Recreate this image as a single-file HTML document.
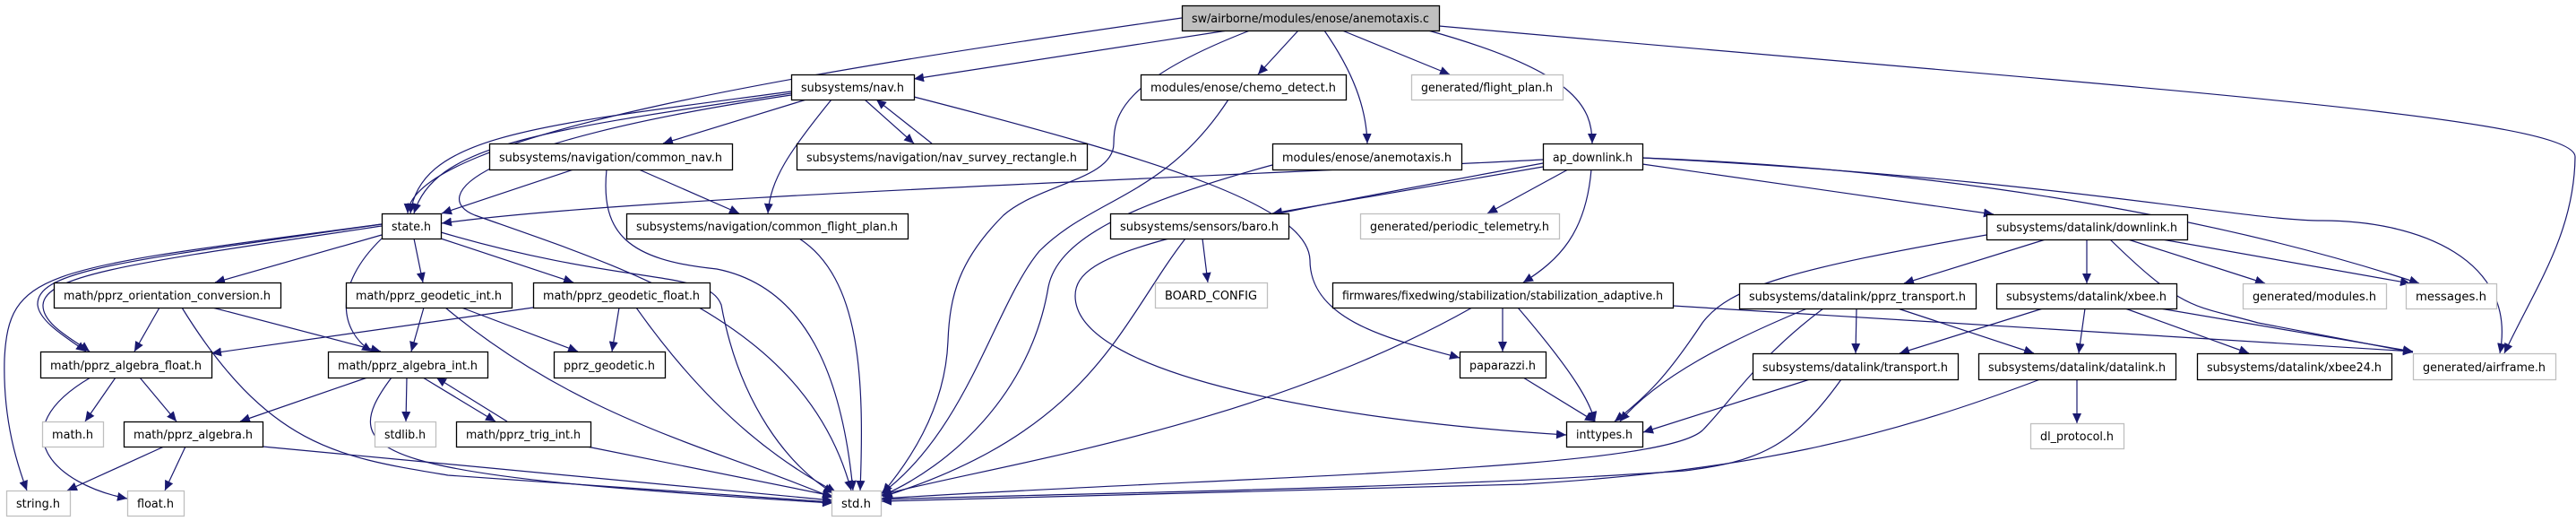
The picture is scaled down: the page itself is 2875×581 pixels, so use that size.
<!DOCTYPE html>
<html><head><meta charset="utf-8"><style>
html,body{margin:0;padding:0;background:#fff;}
svg{display:block;}
text{font-family:"DejaVu Sans","Liberation Sans",sans-serif;font-size:13px;fill:#000;}
.e{fill:none;stroke:#191970;stroke-width:1.2;marker-end:url(#a);}
.n{fill:#fff;stroke:#000;stroke-width:1.3;}
.g{fill:#fff;stroke:#bfbfbf;stroke-width:1.3;}
</style></head><body>
<svg width="2875" height="581" viewBox="0 0 2875 581" xmlns="http://www.w3.org/2000/svg">
<defs><marker id="a" markerUnits="userSpaceOnUse" markerWidth="12" markerHeight="10" refX="11" refY="5" orient="auto"><path d="M0,0 L11,5 L0,10 z" fill="#191970"/></marker></defs>
<g>
<!-- root edges -->
<path class="e" d="M1319,20 C900,80 460,150 455,238"/>
<path class="e" d="M1370,34 L1020,88"/>
<path class="e" d="M1395,34 C1250,90 1243,130 1243,160 C1243,200 1160,205 1120,240 C1070,290 1060,330 1058,380 C1055,460 1010,520 985,550"/>
<path class="e" d="M1449,34 L1404,83"/>
<path class="e" d="M1478,34 C1510,80 1525,120 1526,160"/>
<path class="e" d="M1498,34 L1618,83"/>
<path class="e" d="M1594,34 C1760,80 1777,120 1777,160"/>
<path class="e" d="M1606,29 C2400,100 2875,130 2874,175 C2873,260 2830,320 2795,394"/>
<!-- nav.h -->
<path class="e" d="M883,102 C600,140 470,150 458,238"/>
<path class="e" d="M883,104 C610,145 485,160 462,238"/>
<path class="e" d="M900,111 L740,160"/>
<path class="e" d="M928,111 C880,170 860,200 857,238"/>
<path class="e" d="M965,111 L1020,160"/>
<path class="e" d="M1040,160 L978,111"/>
<path class="e" d="M1020,108 C1300,180 1460,230 1462,290 C1462,360 1560,380 1629,399"/>
<path class="e" d="M883,106 C520,160 480,220 530,240 C700,300 900,360 950,547"/>
<!-- common_nav -->
<path class="e" d="M640,189 L493,238"/>
<path class="e" d="M713,189 L825,238"/>
<path class="e" d="M677,189 C670,260 700,290 800,300 C900,320 940,420 952,547"/>
<!-- cfp -->
<path class="e" d="M892,266 C960,310 965,420 960,547"/>
<!-- chemo, anem_h -->
<path class="e" d="M1371,111 C1300,220 1220,220 1160,280 C1110,340 1080,480 983,551"/>
<path class="e" d="M1420,184 C1250,230 1180,270 1170,320 C1150,440 1060,520 984,553"/>
<!-- ap_downlink -->
<path class="e" d="M1722,178 C1300,200 700,220 493,249"/>
<path class="e" d="M1722,186 L1420,238"/>
<path class="e" d="M1750,189 L1660,238"/>
<path class="e" d="M1776,189 C1770,260 1740,290 1700,315"/>
<path class="e" d="M1722,182 C1300,260 1200,280 1200,330 C1200,420 1500,470 1748,485"/>
<path class="e" d="M1833,183 L2225,239"/>
<path class="e" d="M1833,176 C2200,190 2500,250 2700,316"/>
<path class="e" d="M1833,176 C2300,200 2500,246 2592,246 C2700,246 2810,290 2790,394"/>
<!-- baro -->
<path class="e" d="M1342,266 L1348,315"/>
<path class="e" d="M1323,266 C1250,360 1220,480 985,554"/>
<!-- state.h -->
<path class="e" d="M426,262 L240,315"/>
<path class="e" d="M462,266 L472,315"/>
<path class="e" d="M492,266 L640,315"/>
<path class="e" d="M426,266 C370,320 380,370 415,392"/>
<path class="e" d="M426,250 C150,290 40,300 42,340 C44,360 80,380 96,392"/>
<path class="e" d="M426,252 C160,292 50,305 48,340 C47,362 84,380 100,392"/>
<path class="e" d="M426,250 C50,300 10,300 5,400 C3,470 20,520 30,547"/>
<path class="e" d="M492,259 C700,320 790,300 805,340 C825,450 880,520 930,550"/>
<!-- orientation -->
<path class="e" d="M178,343 L150,392"/>
<path class="e" d="M237,343 L425,392"/>
<path class="e" d="M203,343 C300,500 380,510 500,530 L929,560"/>
<!-- geodetic -->
<path class="e" d="M473,343 L459,392"/>
<path class="e" d="M515,343 L645,392"/>
<path class="e" d="M497,343 C650,470 800,500 929,555"/>
<path class="e" d="M595,343 L236,394"/>
<path class="e" d="M691,343 L683,392"/>
<path class="e" d="M710,343 C800,470 880,520 933,549"/>
<!-- algebra_float -->
<path class="e" d="M129,421 L95,470"/>
<path class="e" d="M156,421 L197,470"/>
<path class="e" d="M101,421 C0,480 60,540 142,556"/>
<!-- algebra_int -->
<path class="e" d="M410,421 L268,470"/>
<path class="e" d="M454,421 L453,470"/>
<path class="e" d="M472,421 L553,470"/>
<path class="e" d="M566,470 L487,421"/>
<path class="e" d="M437,421 C370,510 420,530 929,561"/>
<!-- pprz_algebra, trig -->
<path class="e" d="M183,498 L75,547"/>
<path class="e" d="M207,498 L184,547"/>
<path class="e" d="M293,498 L929,558"/>
<path class="e" d="M655,498 L929,553"/>
<!-- stab -->
<path class="e" d="M1677,343 L1677,392"/>
<path class="e" d="M1694,343 C1760,420 1775,450 1780,470"/>
<path class="e" d="M1643,343 C1400,480 1100,520 984,552"/>
<path class="e" d="M1867,341 L2693,392"/>
<path class="e" d="M1700,421 L1780,470"/>
<!-- pprz_transport -->
<path class="e" d="M2072,344 L2071,394"/>
<path class="e" d="M2118,344 L2270,394"/>
<path class="e" d="M2017,344 C1930,380 1850,420 1808,470"/>
<path class="e" d="M2035,344 C1960,400 1930,450 1900,480 C1850,525 1400,530 984,556"/>
<!-- dl downlink -->
<path class="e" d="M2283,267 L2125,316"/>
<path class="e" d="M2329,267 L2329,316"/>
<path class="e" d="M2375,267 L2528,316"/>
<path class="e" d="M2413,267 L2690,316"/>
<path class="e" d="M2355,267 C2440,350 2450,340 2520,360 L2693,393"/>
<path class="e" d="M2217,262 C2000,300 1930,320 1900,360 C1860,420 1840,440 1802,470"/>
<!-- xbee -->
<path class="e" d="M2280,344 L2120,394"/>
<path class="e" d="M2327,344 L2320,394"/>
<path class="e" d="M2372,344 L2510,394"/>
<path class="e" d="M2411,344 L2693,392"/>
<!-- transport -->
<path class="e" d="M2020,423 L1834,482"/>
<path class="e" d="M2055,423 C2000,500 1960,515 1880,525 C1600,545 1200,550 984,557"/>
<!-- datalink -->
<path class="e" d="M2318,423 L2318,472"/>
<path class="e" d="M2277,423 C2100,490 1950,525 1700,540 L984,559"/>
</g>
<g>
<rect x="1319.5" y="6.5" width="287" height="28" fill="#bfbfbf" stroke="#000" stroke-width="1.3"/><text x="1330" y="25" textLength="265" lengthAdjust="spacingAndGlyphs">sw/airborne/modules/enose/anemotaxis.c</text>
<rect class="n" x="883.5" y="83.5" width="137" height="28"/><text x="894" y="102" textLength="115" lengthAdjust="spacingAndGlyphs">subsystems/nav.h</text>
<rect class="n" x="1273.5" y="83.5" width="229" height="28"/><text x="1284" y="102" textLength="207" lengthAdjust="spacingAndGlyphs">modules/enose/chemo_detect.h</text>
<rect class="g" x="1575.5" y="83.5" width="169" height="28"/><text x="1586" y="102" textLength="147" lengthAdjust="spacingAndGlyphs">generated/flight_plan.h</text>
<rect class="n" x="546.5" y="160.5" width="271" height="29"/><text x="557" y="180" textLength="249" lengthAdjust="spacingAndGlyphs">subsystems/navigation/common_nav.h</text>
<rect class="n" x="889.5" y="160.5" width="324" height="29"/><text x="900" y="180" textLength="302" lengthAdjust="spacingAndGlyphs">subsystems/navigation/nav_survey_rectangle.h</text>
<rect class="n" x="1420.5" y="160.5" width="211" height="29"/><text x="1431" y="180" textLength="189" lengthAdjust="spacingAndGlyphs">modules/enose/anemotaxis.h</text>
<rect class="n" x="1722.5" y="160.5" width="111" height="29"/><text x="1733" y="180" textLength="89" lengthAdjust="spacingAndGlyphs">ap_downlink.h</text>
<rect class="n" x="426.5" y="238.5" width="66" height="28"/><text x="437" y="257" textLength="44" lengthAdjust="spacingAndGlyphs">state.h</text>
<rect class="n" x="699.5" y="238.5" width="314" height="28"/><text x="710" y="257" textLength="292" lengthAdjust="spacingAndGlyphs">subsystems/navigation/common_flight_plan.h</text>
<rect class="n" x="1239.5" y="238.5" width="199" height="28"/><text x="1250" y="257" textLength="177" lengthAdjust="spacingAndGlyphs">subsystems/sensors/baro.h</text>
<rect class="g" x="1518.5" y="238.5" width="222" height="28"/><text x="1529" y="257" textLength="200" lengthAdjust="spacingAndGlyphs">generated/periodic_telemetry.h</text>
<rect class="n" x="2217.5" y="239.5" width="224" height="28"/><text x="2228" y="258" textLength="202" lengthAdjust="spacingAndGlyphs">subsystems/datalink/downlink.h</text>
<rect class="n" x="60.5" y="315.5" width="253" height="28"/><text x="71" y="334" textLength="231" lengthAdjust="spacingAndGlyphs">math/pprz_orientation_conversion.h</text>
<rect class="n" x="386.5" y="315.5" width="185" height="28"/><text x="397" y="334" textLength="163" lengthAdjust="spacingAndGlyphs">math/pprz_geodetic_int.h</text>
<rect class="n" x="595.5" y="315.5" width="197" height="28"/><text x="606" y="334" textLength="175" lengthAdjust="spacingAndGlyphs">math/pprz_geodetic_float.h</text>
<rect class="g" x="1289.5" y="315.5" width="125" height="28"/><text x="1300" y="334" textLength="103" lengthAdjust="spacingAndGlyphs">BOARD_CONFIG</text>
<rect class="n" x="1487.5" y="315.5" width="380" height="28"/><text x="1498" y="334" textLength="358" lengthAdjust="spacingAndGlyphs">firmwares/fixedwing/stabilization/stabilization_adaptive.h</text>
<rect class="n" x="1941.5" y="316.5" width="264" height="28"/><text x="1952" y="335" textLength="242" lengthAdjust="spacingAndGlyphs">subsystems/datalink/pprz_transport.h</text>
<rect class="n" x="2228.5" y="316.5" width="201" height="28"/><text x="2239" y="335" textLength="179" lengthAdjust="spacingAndGlyphs">subsystems/datalink/xbee.h</text>
<rect class="g" x="2503.5" y="316.5" width="160" height="28"/><text x="2514" y="335" textLength="138" lengthAdjust="spacingAndGlyphs">generated/modules.h</text>
<rect class="g" x="2685.5" y="316.5" width="101" height="28"/><text x="2696" y="335" textLength="79" lengthAdjust="spacingAndGlyphs">messages.h</text>
<rect class="n" x="45.5" y="392.5" width="191" height="29"/><text x="56" y="412" textLength="169" lengthAdjust="spacingAndGlyphs">math/pprz_algebra_float.h</text>
<rect class="n" x="366.5" y="392.5" width="178" height="29"/><text x="377" y="412" textLength="156" lengthAdjust="spacingAndGlyphs">math/pprz_algebra_int.h</text>
<rect class="n" x="618.5" y="392.5" width="124" height="29"/><text x="629" y="412" textLength="102" lengthAdjust="spacingAndGlyphs">pprz_geodetic.h</text>
<rect class="n" x="1629.5" y="392.5" width="96" height="29"/><text x="1640" y="412" textLength="74" lengthAdjust="spacingAndGlyphs">paparazzi.h</text>
<rect class="n" x="1956.5" y="394.5" width="229" height="29"/><text x="1967" y="414" textLength="207" lengthAdjust="spacingAndGlyphs">subsystems/datalink/transport.h</text>
<rect class="n" x="2208.5" y="394.5" width="220" height="29"/><text x="2219" y="414" textLength="198" lengthAdjust="spacingAndGlyphs">subsystems/datalink/datalink.h</text>
<rect class="n" x="2452.5" y="394.5" width="217" height="29"/><text x="2463" y="414" textLength="195" lengthAdjust="spacingAndGlyphs">subsystems/datalink/xbee24.h</text>
<rect class="g" x="2693.5" y="394.5" width="159" height="29"/><text x="2704" y="414" textLength="137" lengthAdjust="spacingAndGlyphs">generated/airframe.h</text>
<rect class="g" x="47.5" y="470.5" width="68" height="28"/><text x="58" y="489" textLength="46" lengthAdjust="spacingAndGlyphs">math.h</text>
<rect class="n" x="138.5" y="470.5" width="155" height="28"/><text x="149" y="489" textLength="133" lengthAdjust="spacingAndGlyphs">math/pprz_algebra.h</text>
<rect class="g" x="418.5" y="470.5" width="68" height="28"/><text x="429" y="489" textLength="46" lengthAdjust="spacingAndGlyphs">stdlib.h</text>
<rect class="n" x="509.5" y="470.5" width="150" height="28"/><text x="520" y="489" textLength="128" lengthAdjust="spacingAndGlyphs">math/pprz_trig_int.h</text>
<rect class="n" x="1748.5" y="470.5" width="85" height="28"/><text x="1759" y="489" textLength="63" lengthAdjust="spacingAndGlyphs">inttypes.h</text>
<rect class="g" x="2266.5" y="472.5" width="104" height="28"/><text x="2277" y="491" textLength="82" lengthAdjust="spacingAndGlyphs">dl_protocol.h</text>
<rect class="g" x="7.5" y="547.5" width="71" height="28"/><text x="18" y="566" textLength="49" lengthAdjust="spacingAndGlyphs">string.h</text>
<rect class="g" x="142.5" y="547.5" width="63" height="28"/><text x="153" y="566" textLength="41" lengthAdjust="spacingAndGlyphs">float.h</text>
<rect class="g" x="928.5" y="547.5" width="55" height="28"/><text x="939" y="566" textLength="33" lengthAdjust="spacingAndGlyphs">std.h</text>
</g>
</svg>
</body></html>
